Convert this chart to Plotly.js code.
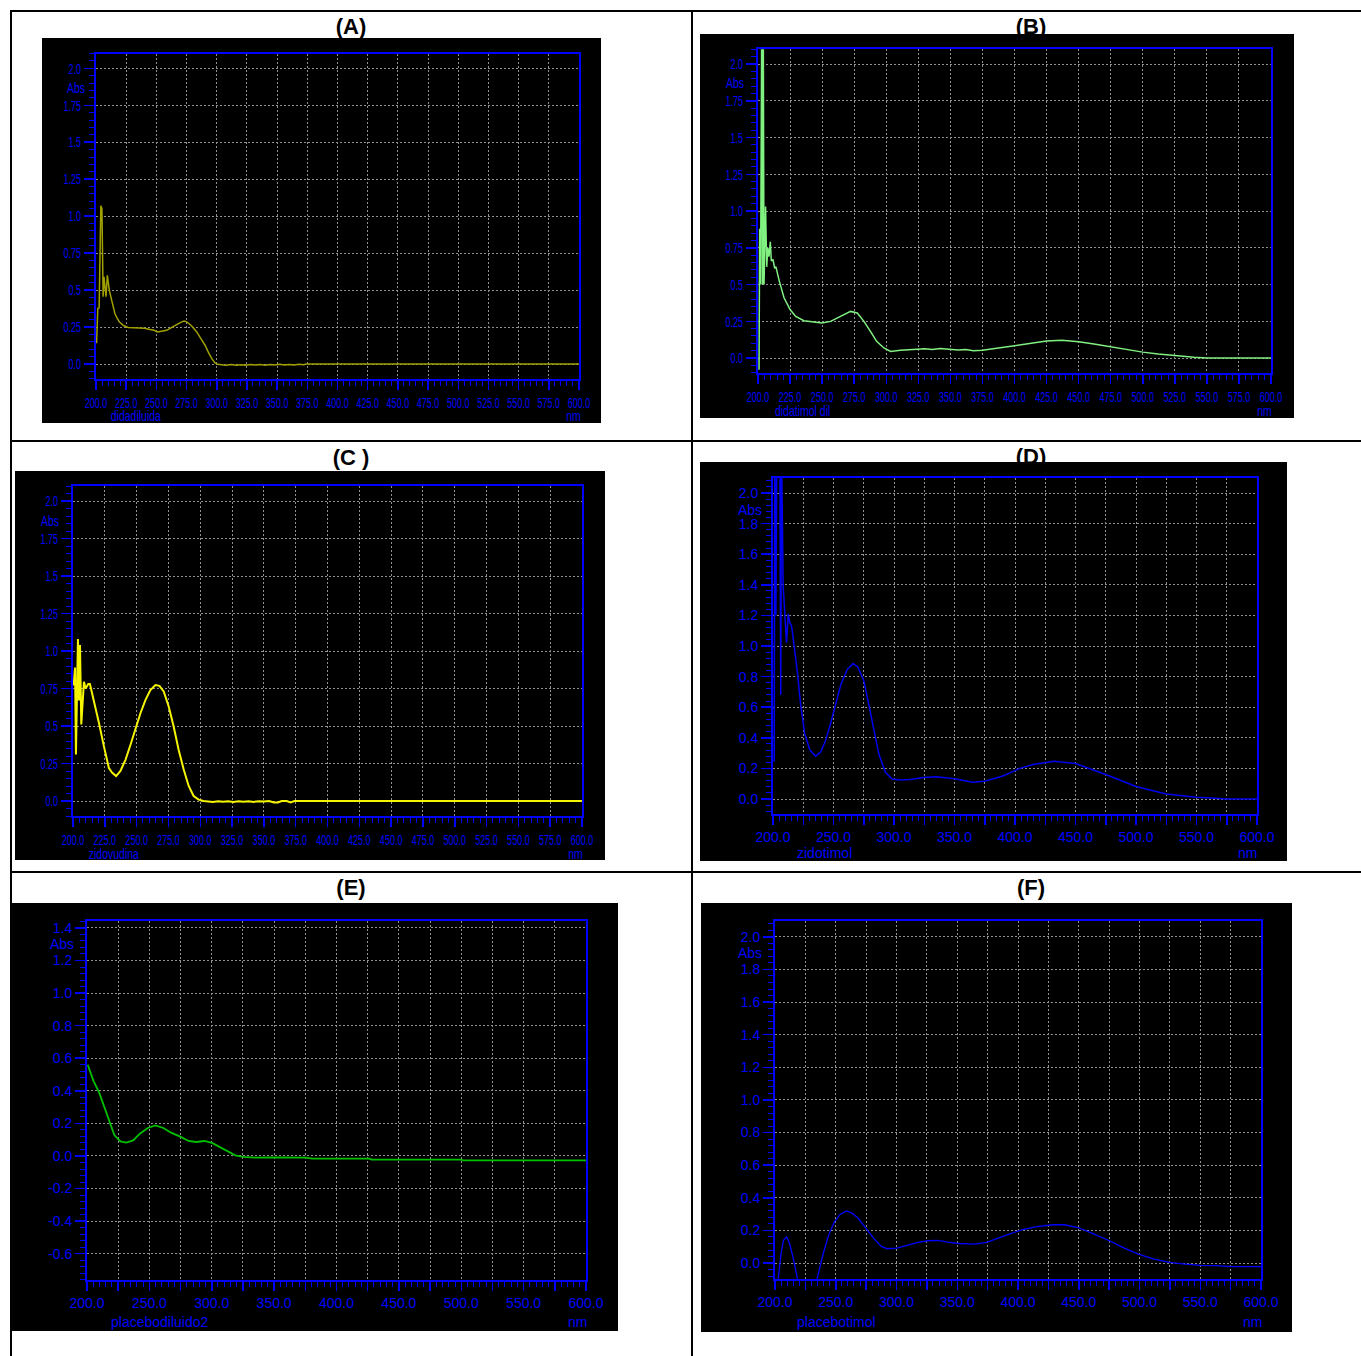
<!DOCTYPE html>
<html><head><meta charset="utf-8">
<script src="https://cdn.plot.ly/plotly-3.0.1.min.js"></script>
<style>html,body{margin:0;padding:0;background:#fff;} #chart{width:1361px;height:1356px;}</style>
</head><body><div id="chart"></div>
<script>
// ---------- DATA ----------
const panelLabels = ['(A)', '(B)', '(C )', '(D)', '(E)', '(F)'];
const sampleNames = ['didadiluida', 'didatimol dil', 'zidovudina', 'zidotimol', 'placebodiluido2', 'placebotimol'];
const unitLabel = 'nm';
const absLabel = 'Abs';

const wlA = [200.5,201.5,202.6,203.4,204.0,204.9,205.9,206.6,207.5,208.3,209.4,210.2,211.0,213.0,215.7,217.5,219.3,222.7,226.8,231.0,236.5,240.0,244.8,248.0,251.0,255.0,258.6,261.0,264.0,267.5,271.0,273.0,275.0,277.0,280.0,283.4,287.0,290.3,293.0,295.9,298.6,301.0,304.0,308,312,316,320,324,328,332,336,340,344,348,352,356,360,364,368,372,374,600];
const absA = [0.14,0.375,0.38,1.05,1.07,1.05,0.455,0.59,0.52,0.455,0.60,0.55,0.50,0.43,0.34,0.31,0.285,0.26,0.247,0.245,0.244,0.242,0.233,0.228,0.217,0.222,0.228,0.24,0.256,0.27,0.285,0.29,0.285,0.274,0.25,0.217,0.17,0.127,0.08,0.036,0.007,-0.002,-0.005,-0.009,-0.004,-0.008,-0.005,-0.009,-0.004,-0.007,-0.003,-0.008,-0.004,-0.006,-0.002,-0.007,-0.003,-0.006,-0.002,-0.005,0.0,0.0];

const wlB = [200.8,201.3,202.0,202.9,203.5,204.1,204.7,205.9,206.8,207.7,208.6,209.6,210.4,211.7,213.0,214.0,216.4,220.3,225.0,229.4,235.8,243.6,249.9,256.6,264.4,272.2,277.4,282.6,287.8,292.5,298.2,303.4,311,318,324,330,336,342,350,356,362,368,375,388,400,412,425,437,450,462,475,490,500,512,525,540,550,600];
const absB = [-0.08,0.88,0.50,2.3,0.50,2.3,0.50,1.03,0.62,0.75,0.69,0.79,0.66,0.67,0.61,0.62,0.53,0.41,0.33,0.283,0.254,0.245,0.238,0.249,0.283,0.317,0.306,0.249,0.18,0.113,0.068,0.045,0.052,0.058,0.06,0.063,0.058,0.064,0.059,0.055,0.057,0.05,0.052,0.068,0.084,0.10,0.115,0.12,0.11,0.095,0.075,0.055,0.04,0.027,0.015,0.005,0.0,0.0];

const wlC = [200.5,201.6,202.3,203.9,204.7,205.5,206.5,207.5,208.6,209.9,211.0,212.0,213.3,216.4,220.4,224.3,228.2,230.8,233.9,237.3,241.3,245.2,249.1,253.0,256.9,260.8,264.8,267.9,271.3,275.2,279.1,283.0,287.0,290.9,294.8,298.7,302.6,306,310,314,318,322,326,330,334,338,342,346,350,354,358,361,364,368,371,374,600];
const absC = [0.77,0.89,0.31,1.08,0.67,1.04,0.51,0.66,0.795,0.75,0.77,0.78,0.78,0.67,0.52,0.364,0.22,0.188,0.166,0.20,0.276,0.375,0.486,0.585,0.673,0.74,0.773,0.768,0.73,0.63,0.497,0.342,0.21,0.10,0.033,0.009,0.0,-0.003,-0.006,-0.001,-0.005,-0.002,-0.006,-0.001,-0.005,-0.002,-0.006,-0.001,-0.004,0.0,-0.01,-0.01,0.0,0.0,-0.009,0.0,0.0];

const wlD = [200.3,201.0,201.5,202.4,203.2,205.6,206.4,207.0,208.4,209.6,211.2,212.6,214.0,215.4,217.3,220.0,222.8,226.1,230.5,235.2,239.3,243.4,247.5,251.6,256.3,261.3,266.2,270.0,275.0,279.1,283.2,287.4,292.9,298.4,305.2,313.5,324.5,335.0,350.0,365.0,375.0,390.0,404.0,415.0,432.0,450.0,475.0,500.0,525.0,550.0,562.0,575.0,600.0];
const absD = [0.25,0.25,2.3,1.2,2.3,2.3,0.68,2.3,1.39,1.2,1.02,1.21,1.15,1.13,1.02,0.84,0.62,0.43,0.32,0.28,0.306,0.38,0.49,0.62,0.754,0.846,0.885,0.863,0.776,0.62,0.45,0.295,0.175,0.131,0.125,0.128,0.14,0.145,0.133,0.11,0.116,0.15,0.2,0.226,0.247,0.232,0.16,0.082,0.032,0.011,0.006,0.0,0.0];

const wlE = [200.6,205.0,209.7,214.4,218.4,222.0,226.8,231.5,237.0,242.4,248.7,254.9,261.2,267.4,275.2,281.4,287.7,293.9,300.2,306.4,312.6,318.9,325.1,334.5,350.0,375.0,381.0,426.5,428.0,500.0,501.5,600.0];
const absE = [0.56,0.464,0.39,0.29,0.198,0.127,0.09,0.082,0.096,0.137,0.172,0.188,0.172,0.143,0.117,0.092,0.086,0.092,0.08,0.055,0.025,0.004,-0.006,-0.01,-0.008,-0.01,-0.016,-0.016,-0.022,-0.022,-0.027,-0.027];

const wlF = [201.0,202.6,205.0,207.0,209.6,212.0,215.0,218.6,221.0,228.0,234.6,239.4,244.2,249.0,253.8,258.7,263.5,268.3,274.7,281.1,287.5,292.3,300.3,309.9,317.9,326.0,334.0,342.0,351.6,364.4,374.0,383.7,393.3,402.9,415.7,428.5,438.1,449.4,460.6,473.4,486.2,499.0,511.9,524.7,537.5,550.3,563.1,576.0,600.0];
const absF = [-0.4,-0.1,0.06,0.14,0.16,0.12,0.03,-0.1,-0.4,-0.4,-0.098,0.051,0.173,0.255,0.30,0.32,0.306,0.276,0.214,0.153,0.102,0.088,0.092,0.112,0.127,0.137,0.139,0.129,0.12,0.116,0.127,0.153,0.178,0.204,0.224,0.235,0.235,0.218,0.184,0.143,0.096,0.055,0.024,0.004,-0.006,-0.014,-0.016,-0.022,-0.022];

// tick labels
const xTickVals = [200,225,250,275,300,325,350,375,400,425,450,475,500,525,550,575,600];
const xTickTextAll = ['200.0','225.0','250.0','275.0','300.0','325.0','350.0','375.0','400.0','425.0','450.0','475.0','500.0','525.0','550.0','575.0','600.0'];
const xTickTextHalf = ['200.0','','250.0','','300.0','','350.0','','400.0','','450.0','','500.0','','550.0','','600.0'];
const yTickValsQ = [0,0.25,0.5,0.75,1.0,1.25,1.5,1.75,2.0];
const yTickTextQ = ['0.0','0.25','0.5','0.75','1.0','1.25','1.5','1.75','2.0'];
const yTickVals02 = [0,0.2,0.4,0.6,0.8,1.0,1.2,1.4,1.6,1.8,2.0];
const yTickText02 = ['0.0','0.2','0.4','0.6','0.8','1.0','1.2','1.4','1.6','1.8','2.0'];
const yTickValsE = [-0.6,-0.4,-0.2,0,0.2,0.4,0.6,0.8,1.0,1.2,1.4];
const yTickTextE = ['-0.6','-0.4','-0.2','0.0','0.2','0.4','0.6','0.8','1.0','1.2','1.4'];

// ---------- LAYOUT ----------
const W = 1361, H = 1356;
const PX = x => x / W;
const PY = y => 1 - y / H;
const BLUE = '#0000ff';
const REG = "'Liberation Sans', Arial, sans-serif";

const panels = [
  {wl: wlA, ab: absA, color: '#a0a000', lw: 1.5, box: [42,601,38,423], frame: [96,579,53.5,378.8], yr: [-0.1,2.1],
   ytv: yTickValsQ, ytt: yTickTextQ, xtt: xTickTextAll, fs: 15, narrow: true, ymin: 0.05, rowTop: 12, labY: 28, labX: 351,
   absPos: [76,87], namePos: [136,415], nmPos: [573,415]},
  {wl: wlB, ab: absB, color: '#80f080', lw: 1.5, box: [700,1294,34,418], frame: [758,1271,49.3,372.7], yr: [-0.1,2.1],
   ytv: yTickValsQ, ytt: yTickTextQ, xtt: xTickTextAll, fs: 15, narrow: true, ymin: 0.05, rowTop: 12, labY: 28, labX: 1031,
   absPos: [735,82], namePos: [803,410], nmPos: [1264,410]},
  {wl: wlC, ab: absC, color: '#f5f500', lw: 2, box: [15,605,471,860], frame: [73,582,486,816], yr: [-0.1,2.1],
   ytv: yTickValsQ, ytt: yTickTextQ, xtt: xTickTextAll, fs: 15, narrow: true, ymin: 0.05, rowTop: 442, labY: 459, labX: 351,
   absPos: [50,520], namePos: [114,853], nmPos: [575,853]},
  {wl: wlD, ab: absD, color: '#0000f0', lw: 1.5, box: [700,1287,462,861], frame: [773,1257,477.7,814.3], yr: [-0.1,2.1],
   ytv: yTickVals02, ytt: yTickText02, xtt: xTickTextHalf, fs: 14, narrow: false, ymin: 0.04, rowTop: 442, labY: 458, labX: 1031,
   absPos: [750,510], namePos: [824,853], nmPos: [1247,853]},
  {wl: wlE, ab: absE, color: '#00c000', lw: 1.8, box: [11,618,903,1331], frame: [87,586,921.4,1279.8], yr: [-0.76,1.44],
   ytv: yTickValsE, ytt: yTickTextE, xtt: xTickTextHalf, fs: 14, narrow: false, ymin: 0.04, rowTop: 873, labY: 889, labX: 351,
   absPos: [62,944], namePos: [160,1322], nmPos: [577,1322]},
  {wl: wlF, ab: absF, color: '#0000ff', lw: 1.3, box: [701,1292,903,1332], frame: [775,1261,920.5,1279.4], yr: [-0.1,2.1],
   ytv: yTickVals02, ytt: yTickText02, xtt: xTickTextHalf, fs: 14, narrow: false, ymin: 0.04, rowTop: 873, labY: 889, labX: 1031,
   absPos: [750,953], namePos: [836,1322], nmPos: [1252,1322]}
];

const layout = {
  width: W, height: H,
  margin: {l: 0, r: 0, t: 0, b: 0, pad: 0},
  paper_bgcolor: '#ffffff',
  plot_bgcolor: 'rgba(0,0,0,0)',
  showlegend: false,
  hovermode: false,
  shapes: [],
  annotations: []
};
const traces = [];

// table border lines
const tableLine = {type: 'line', xref: 'paper', yref: 'paper', line: {color: '#000', width: 2}, layer: 'above'};
layout.shapes.push(Object.assign({}, tableLine, {x0: PX(10), x1: 1, y0: PY(11), y1: PY(11)}));
layout.shapes.push(Object.assign({}, tableLine, {x0: PX(10), x1: 1, y0: PY(441), y1: PY(441)}));
layout.shapes.push(Object.assign({}, tableLine, {x0: PX(10), x1: 1, y0: PY(872), y1: PY(872)}));
layout.shapes.push(Object.assign({}, tableLine, {x0: PX(11), x1: PX(11), y0: PY(10), y1: 0}));
layout.shapes.push(Object.assign({}, tableLine, {x0: PX(692), x1: PX(692), y0: PY(10), y1: 0}));

panels.forEach((p, i) => {
  const n = i + 1;
  const xa = 'xaxis' + (n === 1 ? '' : n), ya = 'yaxis' + (n === 1 ? '' : n);
  const xs = 'x' + (n === 1 ? '' : n), ys = 'y' + (n === 1 ? '' : n);
  layout.shapes.push({type: 'rect', xref: 'paper', yref: 'paper', layer: 'below',
    x0: PX(p.box[0]), x1: PX(p.box[1]), y0: PY(p.box[3]), y1: PY(p.box[2]),
    fillcolor: '#000', line: {width: 0}});
  const common = {
    showline: true, linecolor: BLUE, linewidth: 2, mirror: true,
    showgrid: true, gridcolor: '#909090', gridwidth: 1, griddash: '2px,2px',
    zeroline: false, ticks: 'outside', ticklen: 10, tickwidth: 1.5, tickcolor: BLUE,
    tickfont: {family: REG, size: p.fs, color: BLUE}, tickmode: 'array', tickangle: 0,
    automargin: false, fixedrange: true
  };
  layout[xa] = Object.assign({}, common, {
    domain: [PX(p.frame[0]), PX(p.frame[1])], range: [200, 600], anchor: ys,
    tickvals: xTickVals, ticktext: p.xtt, ticklen: 9,
    minor: {ticks: 'outside', ticklen: 5, dtick: 5, tick0: 200, tickcolor: BLUE, tickwidth: 1, showgrid: false}
  });
  layout[ya] = Object.assign({}, common, {
    domain: [PY(p.frame[3]), PY(p.frame[2])], range: p.yr, anchor: xs,
    tickvals: p.ytv, ticktext: p.ytt,
    minor: {ticks: 'outside', ticklen: 5, dtick: p.ymin, tick0: 0, tickcolor: BLUE, tickwidth: 1, showgrid: false}
  });
  traces.push({type: 'scatter', mode: 'lines', x: p.wl, y: p.ab, xaxis: xs, yaxis: ys,
    line: {color: p.color, width: p.lw}, hoverinfo: 'skip'});

  // panel letter, clipped by the black panel (its own subplot above the panel)
  const m = n + 6;
  const hgt = p.box[2] - p.rowTop;
  layout['xaxis' + m] = {domain: [PX(p.box[0]), PX(p.box[1])], range: [p.box[0], p.box[1]], visible: false, anchor: 'y' + m, fixedrange: true};
  layout['yaxis' + m] = {domain: [PY(p.box[2]), PY(p.rowTop)], range: [0, hgt], visible: false, anchor: 'x' + m, fixedrange: true};
  traces.push({type: 'scatter', mode: 'text', x: [p.labX], y: [p.box[2] - p.labY], text: [panelLabels[i]],
    textposition: 'middle center', cliponaxis: true, xaxis: 'x' + m, yaxis: 'y' + m, hoverinfo: 'skip',
    textfont: {family: REG, size: 22, color: '#000', weight: 'bold'}});

  const af = {family: REG, size: p.fs, color: BLUE};
  [[absLabel, p.absPos], [sampleNames[i], p.namePos], [unitLabel, p.nmPos]].forEach(([t, pos]) => {
    layout.annotations.push({text: t, xref: 'paper', yref: 'paper', x: PX(pos[0]), y: PY(pos[1]),
      xanchor: 'center', yanchor: 'middle', showarrow: false, font: af});
  });
});

// the instrument software of panels A-C uses a tall condensed face: squeeze their texts horizontally
function inNarrowPanel(el) {
  const r = el.getBoundingClientRect();
  const cx = r.left + r.width / 2, cy = r.top + r.height / 2;
  return panels.some(p => p.narrow && cx >= p.box[0] && cx <= p.box[1] && cy >= p.box[2] && cy <= p.box[3]);
}
function condense(el, factor) {
  if (el.hasAttribute('textLength')) return;
  const len = el.getComputedTextLength();
  if (len > 0) {
    el.setAttribute('textLength', (len * factor).toFixed(2));
    el.setAttribute('lengthAdjust', 'spacingAndGlyphs');
  }
}
function condenseAll(gd) {
  gd.querySelectorAll('.xaxislayer-above text, .yaxislayer-above text').forEach(t => { if (inNarrowPanel(t)) condense(t, 0.6); });
  gd.querySelectorAll('text.annotation-text').forEach(t => { if (inNarrowPanel(t)) condense(t, 0.7); });
}

Plotly.newPlot('chart', traces, layout, {displayModeBar: false, staticPlot: true}).then(gd => {
  condenseAll(gd);
  gd.on('plotly_afterplot', () => condenseAll(gd));
  setTimeout(() => condenseAll(gd), 50);
  setTimeout(() => condenseAll(gd), 300);
});
</script>
</body></html>
